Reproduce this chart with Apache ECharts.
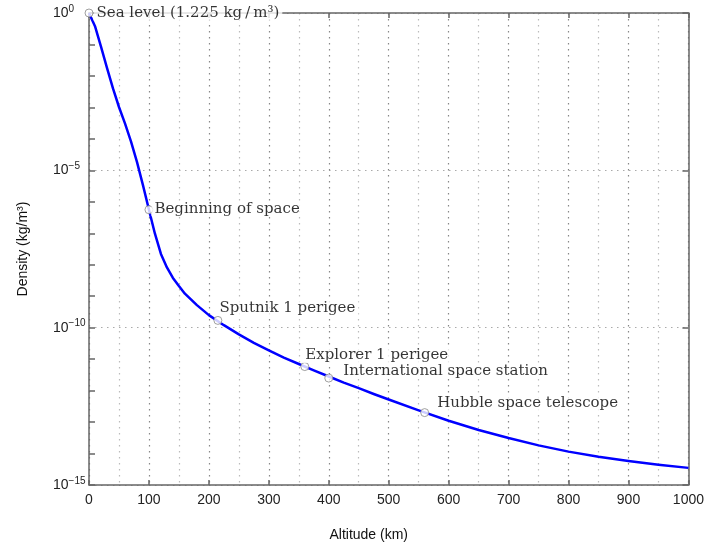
<!DOCTYPE html>
<html>
<head>
<meta charset="utf-8">
<script src="https://cdn.jsdelivr.net/npm/echarts@6/dist/echarts.min.js"></script>
<style>
  html, body { margin: 0; padding: 0; background: #fff; }
  #main { width: 707px; height: 552px; }
</style>
</head>
<body>
<div id="main"></div>
<script>
  // altitude (km) and density (kg/m^3)
  var altitudes = [0, 10, 20, 30, 40, 50, 60, 70, 80, 90, 100, 110, 120, 130, 140, 150, 160, 180, 200,
                   225, 250, 275, 300, 325, 350, 375, 400, 425, 450, 475, 500, 550, 600, 650, 700,
                   750, 800, 850, 900, 950, 1000];
  var densities = [1.0, 0.38, 0.085, 0.018, 0.004, 1.03e-3, 3.1e-4, 8.3e-5, 1.85e-5, 3.4e-6, 5.6e-7,
                   9.7e-8, 2.2e-8, 8.2e-9, 3.8e-9, 2.1e-9, 1.2e-9, 5.2e-10, 2.5e-10,
                   1.2e-10, 6.1e-11, 3.3e-11, 1.9e-11, 1.12e-11, 7.0e-12, 4.4e-12, 2.8e-12, 1.8e-12,
                   1.2e-12, 7.8e-13, 5.2e-13, 2.35e-13, 1.1e-13, 5.6e-14, 3.1e-14,
                   1.82e-14, 1.15e-14, 7.9e-15, 5.8e-15, 4.4e-15, 3.5e-15];

  // labelled points
  var markerNames = ['Sea level (1.225 kg\u2009/\u2009m\u00b3)', 'Beginning of space', 'Sputnik 1 perigee',
                     'Explorer 1 perigee', 'International space station', 'Hubble space telescope'];
  var markerAlt = [0, 100, 215, 360, 400, 560];
  var markerDensity = [1.0, 5.6e-7, 1.7e-10, 5.8e-12, 2.5e-12, 2.0e-13];
  var markerOffsets = [[-5, 0], [-7, -1], [-11, -12], [-12, -11], [2, -7], [0, -9]];

  var yTickLabels = { '0': '0', '-5': '\u22125', '-10': '\u221210', '-15': '\u221215' };

  var axisGray = '#666';

  var curve = altitudes.map(function (a, i) { return [a, densities[i]]; });
  var points = markerAlt.map(function (a, i) {
      return {
          name: markerNames[i],
          value: [a, markerDensity[i]],
          label: { offset: markerOffsets[i] }
      };
  });

  var option = {
      backgroundColor: '#fff',
      animation: false,
      grid: { left: 89, right: 18, top: 13, bottom: 67 },
      xAxis: [
          {
              type: 'value',
              min: 0, max: 1000, interval: 100,
              name: 'Altitude (km)',
              nameLocation: 'middle',
              nameGap: 43,
              nameTextStyle: { fontFamily: 'Liberation Sans', fontSize: 14, color: '#111', padding: [0, 40, 0, 0] },
              axisLine: { lineStyle: { color: axisGray, width: 1.5 } },
              axisTick: { inside: true, length: 5, lineStyle: { color: axisGray, width: 1.5 } },
              axisLabel: {
                  fontFamily: 'Liberation Sans', fontSize: 14, color: '#222', margin: 8,
                  formatter: function (v) { return String(v); }
              },
              splitLine: { show: true, lineStyle: { type: [1.5, 4.5], color: '#888', width: 1.2 } },
              minorTick: { show: false, splitNumber: 2 },
              minorSplitLine: { show: true, lineStyle: { type: [1.5, 4.5], color: '#bbb', width: 1.2 } }
          },
          {
              type: 'value',
              position: 'top',
              min: 0, max: 1000, interval: 100,
              axisLine: { show: true, lineStyle: { color: axisGray, width: 1.5 } },
              axisTick: { show: true, inside: true, length: 5, lineStyle: { color: axisGray, width: 1.5 } },
              axisLabel: { show: false },
              splitLine: { show: false }
          }
      ],
      yAxis: [
          {
              type: 'log',
              logBase: 10,
              min: 1e-15, max: 1, interval: 5,
              name: 'Density (kg/m\u00b3)',
              nameLocation: 'middle',
              nameGap: 59,
              nameTextStyle: { fontFamily: 'Liberation Sans', fontSize: 14, color: '#111' },
              axisLine: { show: true, lineStyle: { color: axisGray, width: 1.5 } },
              axisTick: { show: false },
              axisLabel: {
                  margin: 36,
                  align: 'left',
                  formatter: function (v) {
                      var e = Math.round(Math.log10(v));
                      return '{b|10}{s|' + (yTickLabels[String(e)] || e) + '}';
                  },
                  rich: {
                      b: { fontFamily: 'Liberation Sans', fontSize: 14, color: '#222', lineHeight: 18 },
                      s: { fontFamily: 'Liberation Sans', fontSize: 10, color: '#222', lineHeight: 10, verticalAlign: 'top' }
                  }
              },
              splitLine: { show: true, lineStyle: { type: [1.5, 4.5], color: '#aaa', width: 1.2 } }
          },
          {
              // decade ticks on the left edge
              type: 'log',
              logBase: 10,
              position: 'left',
              min: 1e-15, max: 1, interval: 1,
              axisLine: { show: false },
              axisTick: { show: true, inside: true, length: 6, lineStyle: { color: axisGray, width: 1.5 } },
              axisLabel: { show: false },
              splitLine: { show: false }
          },
          {
              type: 'log',
              logBase: 10,
              position: 'right',
              min: 1e-15, max: 1, interval: 5,
              axisLine: { show: true, lineStyle: { color: axisGray, width: 1.5 } },
              axisTick: { show: true, inside: true, length: 6, lineStyle: { color: axisGray, width: 1.5 } },
              axisLabel: { show: false },
              splitLine: { show: false }
          }
      ],
      series: [
          {
              name: 'density',
              type: 'line',
              data: curve,
              showSymbol: false,
              clip: true,
              lineStyle: { color: '#0000ff', width: 2.5, join: 'round' },
              z: 3
          },
          {
              name: 'markers',
              type: 'scatter',
              data: points,
              symbol: 'circle',
              symbolSize: 8,
              itemStyle: { color: '#fff', borderColor: '#888', borderWidth: 1 },
              label: {
                  show: true,
                  position: 'right',
                  distance: 5,
                  formatter: '{b}',
                  fontFamily: 'DejaVu Serif',
                  fontSize: 15,
                  color: '#000',
                  backgroundColor: '#fff',
                  padding: [0, 3]
              },
              z: 4
          }
      ]
  };

  var myChart = echarts.init(document.getElementById('main'));
  myChart.setOption(option);
</script>
</body>
</html>
